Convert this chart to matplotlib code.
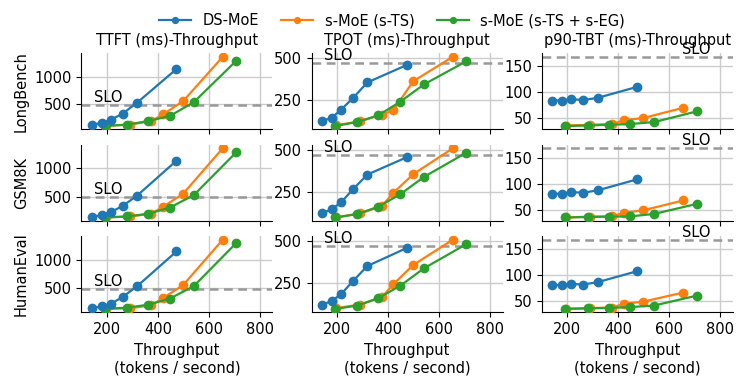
import numpy as np
import matplotlib.pyplot as plt

plt.rcParams["font.size"] = 10.5

datasets = ["LongBench", "GSM8K", "HumanEval"]
metrics = ["TTFT (ms)-Throughput", "TPOT (ms)-Throughput", "p90-TBT (ms)-Throughput"]
systems = ["DS-MoE", "s-MoE (s-TS)", "s-MoE (s-TS + s-EG)"]
colors = ["tab:blue", "tab:orange", "tab:green"]

# throughput (tokens / second), same load points for every dataset
thr_ds = [141, 180, 216, 262, 319, 473]
thr_ts = [195, 291, 375, 421, 499, 655]
thr_eg = [193, 280, 362, 447, 541, 708]

# SLO per metric (ms)
slo = [485, 468, 168]
slo_text_x = [150, 150, 650]

# latency values: [dataset][metric] -> (DS-MoE, s-TS, s-TS + s-EG)
ttft_longbench = ([128, 158, 219, 329, 531, 1141],
                  [110, 128, 194, 317, 555, 1366],
                  [103, 128, 194, 286, 537, 1293])
ttft_gsm8k = ([139, 170, 224, 332, 518, 1137],
              [127, 145, 193, 319, 548, 1361],
              [127, 145, 193, 303, 524, 1289])
ttft_humaneval = ([139, 170, 218, 338, 531, 1150],
                  [125, 139, 188, 320, 548, 1361],
                  [128, 146, 200, 309, 531, 1301])

tpot_longbench = ([126, 148, 195, 262, 355, 457],
                  [102, 126, 165, 191, 362, 506],
                  [98, 122, 161, 240, 343, 480])
tpot_gsm8k = ([124, 150, 190, 266, 354, 456],
              [100, 124, 166, 246, 356, 510],
              [100, 120, 164, 236, 340, 484])
tpot_humaneval = ([122, 146, 186, 262, 352, 458],
                  [102, 124, 166, 244, 358, 508],
                  [98, 118, 162, 234, 338, 482])

tbt_longbench = ([84, 84, 86.5, 85, 89, 110],
                 [36, 37.4, 38.8, 45.8, 50.4, 70],
                 [35, 36, 37.4, 38.8, 42.6, 63])
tbt_gsm8k = ([80.6, 80.6, 83.8, 82.5, 87, 108],
             [35, 36.6, 37, 43.7, 48.8, 67.6],
             [35, 36, 36.6, 37, 41.8, 61])
tbt_humaneval = ([80.5, 80.5, 82.5, 81.5, 86, 107],
                 [35, 36, 37, 44, 48.5, 66],
                 [34.5, 35.5, 36.5, 38, 41, 60])

table = [
    [ttft_longbench, tpot_longbench, tbt_longbench],
    [ttft_gsm8k, tpot_gsm8k, tbt_gsm8k],
    [ttft_humaneval, tpot_humaneval, tbt_humaneval],
]
thr = [thr_ds, thr_ts, thr_eg]
yticks = [[500, 1000], [250, 500], [50, 100, 150]]

fig, axes = plt.subplots(3, 3, figsize=(7.47, 3.89), dpi=100, sharex=True)
fig.subplots_adjust(left=0.109, right=0.981, top=0.863, bottom=0.197, wspace=0.205, hspace=0.2)

for r, name in enumerate(datasets):
    for c in range(3):
        ax = axes[r, c]
        ax.grid(True, color="#cccccc", lw=1.0)
        ax.set_axisbelow(True)
        for s, series in enumerate(table[r][c]):
            ax.plot(thr[s], series, "-o", color=colors[s], lw=1.6, ms=6,
                    label=systems[s], zorder=3 + (s == 0))
        ax.axhline(slo[c], color="#999999", ls="--", lw=1.8, dashes=(3.5, 2.2), zorder=2)
        ax.text(slo_text_x[c], slo[c], "SLO", ha="left", va="bottom")
        ax.set_yticks(yticks[c])
        ax.set_xlim(100, 850)
        ax.set_xticks([200, 400, 600, 800])
        ax.spines["top"].set_visible(False)
        ax.spines["right"].set_visible(False)
        if r == 0:
            ax.set_title(metrics[c], fontsize=10.5)
        if r == 2:
            ax.set_xlabel("Throughput\n(tokens / second)")
    axes[r, 0].set_ylabel(name)

handles, labels = axes[0, 0].get_legend_handles_labels()
fig.legend(handles, labels, loc="upper center", bbox_to_anchor=(0.525, 1.0),
           ncol=3, frameon=False, handlelength=2.2, columnspacing=1.5, markerscale=0.7)

fig.savefig("out.png", dpi=100)
